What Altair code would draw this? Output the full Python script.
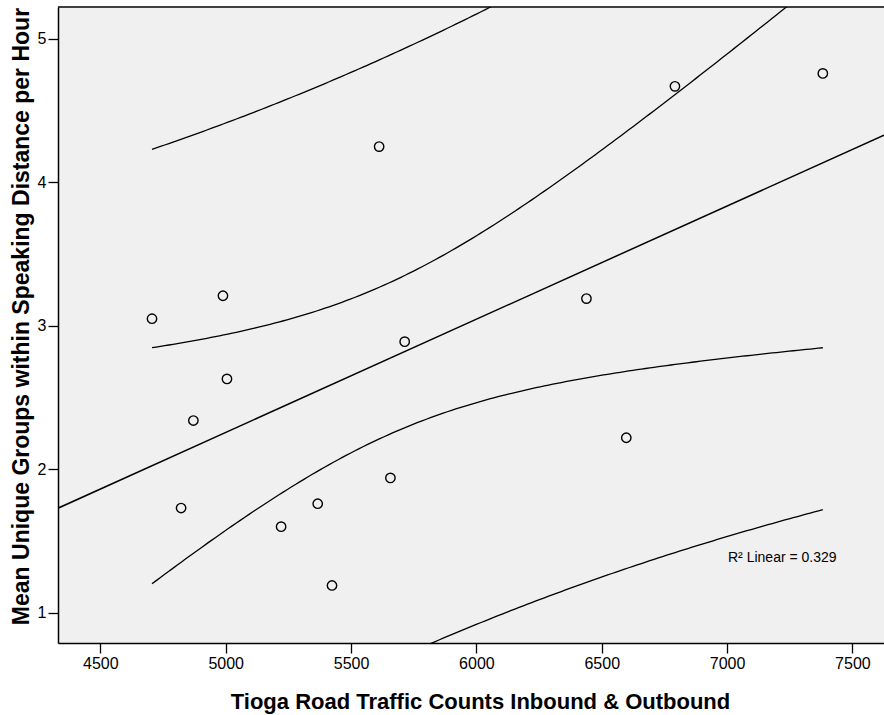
import altair as alt
import numpy as np
import pandas as pd

# Observations: traffic counts vs. mean unique groups within speaking distance
traffic = [4706, 4989, 5005, 4871, 4822, 5221, 5367, 5424, 5657, 5714, 5612, 6439, 6598, 6792, 7382]
groups = [3.05, 3.21, 2.63, 2.34, 1.73, 1.60, 1.76, 1.19, 1.94, 2.89, 4.25, 3.19, 2.22, 4.67, 4.76]

x_ticks = [4500, 5000, 5500, 6000, 6500, 7000, 7500]
y_ticks = [1, 2, 3, 4, 5]
x_domain = [4331, 7626]
y_domain = [0.789, 5.223]

r2_label = "R\u00b2 Linear = 0.329"
T_975_DF13 = 2.1604  # two-sided 95% t quantile, 13 degrees of freedom

BG = "#F0F0F0"
FONT = "Liberation Sans"
W, H = 826, 636

# Least-squares fit with 95% mean and individual prediction intervals
x = np.asarray(traffic, dtype=float)
y = np.asarray(groups, dtype=float)
n = len(x)
slope, intercept = np.polyfit(x, y, 1)
resid = y - (intercept + slope * x)
s = np.sqrt(np.sum(resid ** 2) / (n - 2))
mx = x.mean()
sxx = np.sum((x - mx) ** 2)
xs = np.linspace(x.min(), x.max(), 160)
fit = intercept + slope * xs
se_mean = s * np.sqrt(1.0 / n + (xs - mx) ** 2 / sxx)
se_ind = s * np.sqrt(1.0 + 1.0 / n + (xs - mx) ** 2 / sxx)

bands = pd.concat([
    pd.DataFrame({"traffic": xs, "value": fit + T_975_DF13 * se_mean, "band": "mean_hi"}),
    pd.DataFrame({"traffic": xs, "value": fit - T_975_DF13 * se_mean, "band": "mean_lo"}),
    pd.DataFrame({"traffic": xs, "value": fit + T_975_DF13 * se_ind, "band": "ind_hi"}),
    pd.DataFrame({"traffic": xs, "value": fit - T_975_DF13 * se_ind, "band": "ind_lo"}),
])

points = pd.DataFrame({"traffic": traffic, "groups": groups})
single = pd.DataFrame({"label": [r2_label]})

x_enc = alt.X(
    "traffic:Q",
    scale=alt.Scale(domain=x_domain, nice=False, zero=False),
    axis=alt.Axis(
        values=x_ticks, format="d", grid=False,
        title="Tioga Road Traffic Counts Inbound & Outbound",
        titleX=422, titleY=65, titleBaseline="alphabetic", titleAlign="center",
        titleFontSize=22,
    ),
)
y_scale = alt.Scale(domain=y_domain, nice=False, zero=False)
y_axis = alt.Axis(
    values=y_ticks, format="d", grid=False,
    title="Mean Unique Groups within Speaking Distance per Hour",
    titleX=-37, titleY=309, titleBaseline="middle", titleAlign="center", titleAngle=270,
    titleFontSize=23,
)

band_lines = alt.Chart(bands).mark_line(color="black", strokeWidth=1.3, clip=True).encode(
    x=x_enc,
    y=alt.Y("value:Q", scale=y_scale, axis=y_axis),
    detail="band:N",
)

fit_line = alt.Chart(points).transform_regression(
    "traffic", "groups", extent=x_domain
).mark_line(color="black", strokeWidth=1.5, clip=True).encode(
    x=alt.X("traffic:Q"),
    y=alt.Y("groups:Q"),
)

dots = alt.Chart(points).mark_point(
    shape="circle", filled=True, fill=BG, stroke="black", strokeWidth=1.4, size=88, opacity=1
).encode(
    x=alt.X("traffic:Q"),
    y=alt.Y("groups:Q"),
)

top_edge = alt.Chart(single).mark_rule(color="black", strokeWidth=1.5).encode(
    x=alt.value(0), x2=alt.value(W), y=alt.value(0)
)

r2_text = alt.Chart(single).mark_text(
    font=FONT, fontSize=14, align="left", baseline="alphabetic", color="black"
).encode(x=alt.value(670), y=alt.value(555), text="label:N")

chart = alt.layer(band_lines, fit_line, dots, top_edge, r2_text).properties(
    width=W,
    height=H,
    padding={"left": 58, "top": 7, "right": 0, "bottom": 72},
    autosize=alt.AutoSizeParams(type="none"),
    background="white",
).configure_view(
    fill=BG, stroke="transparent"
).configure_axis(
    domainColor="black", domainWidth=1.5,
    tickColor="black", tickWidth=1.3, tickSize=10,
    labelFont=FONT, labelFontSize=16, labelColor="black", labelPadding=2,
    titleFont=FONT, titleFontWeight="bold", titleColor="black",
)

chart.save("out.html", embed_options={"renderer": "svg", "actions": False})
